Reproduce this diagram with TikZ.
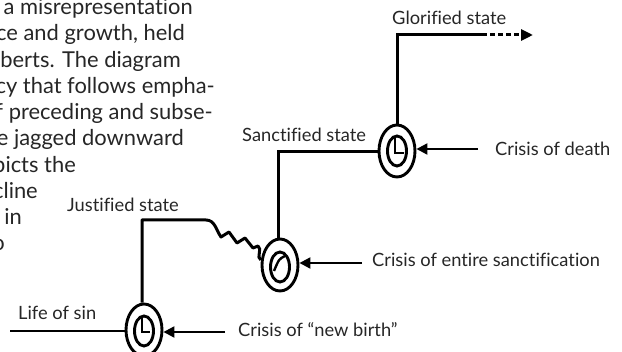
\documentclass[tikz,border=0pt]{standalone}
\usepackage{fontspec}
\setmainfont{Lato}[Ligatures={NoCommon,NoRequired,NoContextual}]
\usetikzlibrary{shapes.geometric,arrows.meta}
\definecolor{txtgray}{HTML}{262626}
\begin{document}
\begin{tikzpicture}[x=1pt,y=-1pt,
  lbl/.style={font=\fontsize{18.3}{20}\selectfont, text=txtgray, inner sep=0pt, anchor=base west},
  para/.style={font=\fontsize{21.9}{26}\selectfont, text=txtgray, inner sep=0pt, anchor=base east},
  outer/.style={ellipse, draw, line width=2.9pt, minimum width=36pt, minimum height=52pt, inner sep=0pt},
  inner/.style={ellipse, draw, line width=2.9pt, minimum width=19pt, minimum height=30pt, inner sep=0pt},
  mainline/.style={line width=3pt},
  thinline/.style={line width=2.4pt},
  hand/.style={line width=2.4pt},
  crisis/.style={line width=2.2pt, -{Triangle[length=11pt,width=11pt]}},
]
\useasboundingbox (0,0) rectangle (622,352);
\begin{scope}
\clip (0,0) rectangle (622,352);
% paragraph fragments
\node[para] (p1) at (193,15) {a misrepresentation};
\node[para] (p2) at (185,41) {ce and growth, held};
\node[para] (p3) at (181,68) {berts. The diagram};
\node[para] (p4) at (215,94) {cy that follows empha-};
\node[para] (p5) at (213,120) {f preceding and subse-};
\node[para] (p6) at (184,146) {e jagged downward};
\node[para] (p7) at (76,173) {picts the};
\node[para] (p8) at (38,199) {cline};
\node[para] (p9) at (22,225) {in};
\node[para] (p10) at (5,251) {o};

% ellipses
\node[outer] (e1o) at (144,330) {};
\node[inner] (e1i) at (144,331) {};
\node[outer] (e2o) at (280,265) {};
\node[inner] (e2i) at (280,267) {};
\node[outer] (e3o) at (397,151) {};
\node[inner] (e3i) at (397,151) {};

% hands
\draw[hand] (142,317) -- (142,332) -- (150,332);
\draw[hand] (285,256) .. controls (279,259) .. (274,271);
\draw[hand] (395,137) -- (395,153) -- (404,153);

% coordinates
\coordinate (sinstart) at (10,331);
\coordinate (jc) at (142,220);
\coordinate (sc) at (278,152);
\coordinate (gc) at (397,35);
\coordinate (gd) at (482,35);
\coordinate (gend) at (533,35);
\coordinate (cd) at (478,149);
\coordinate (ces) at (362,263);
\coordinate (cnb) at (225,332);

% main path
\draw[thinline] (sinstart) -- (e1o.west |- sinstart);
\draw[mainline, line join=round] (e1o.north -| jc) -- (jc) -- (206,220) to[out=0,in=125] (221,237) -- (229,232) -- (237,243) -- (245,238) -- (253,248) -- (258,246) to[out=-30,in=160] (e2o.165);
\draw[mainline] (e2o.north -| sc) -- (sc) -- (e3o.west |- sc);
\draw[mainline] (e3o.north) -- (gc) -- (gd);
\draw[mainline, dashed, dash pattern=on 5pt off 3pt, -{Triangle[length=12pt,width=11pt]}] (gd) -- (gend);

% crisis arrows
\draw[crisis] (cd) -- (e3o.east |- cd);
\draw[crisis] (ces) -- (e2o.east |- ces);
\draw[crisis] (cnb) -- (e1o.east |- cnb);

% labels
\node[lbl] (lsin) at (18,320) {Life of sin};
\node[lbl] (ljus) at (67,212) {Justified state};
\node[lbl] (lsan) at (242,142) {Sanctified state};
\node[lbl] (lglo) at (392,25) {Glorified state};
\node[lbl] (lcd) at (495,156) {Crisis of death};
\node[lbl] (lces) at (372,267) {Crisis of entire sanctification};
\node[lbl] (lcnb) at (238,337) {Crisis of “new birth”};
\end{scope}
\end{tikzpicture}
\end{document}
